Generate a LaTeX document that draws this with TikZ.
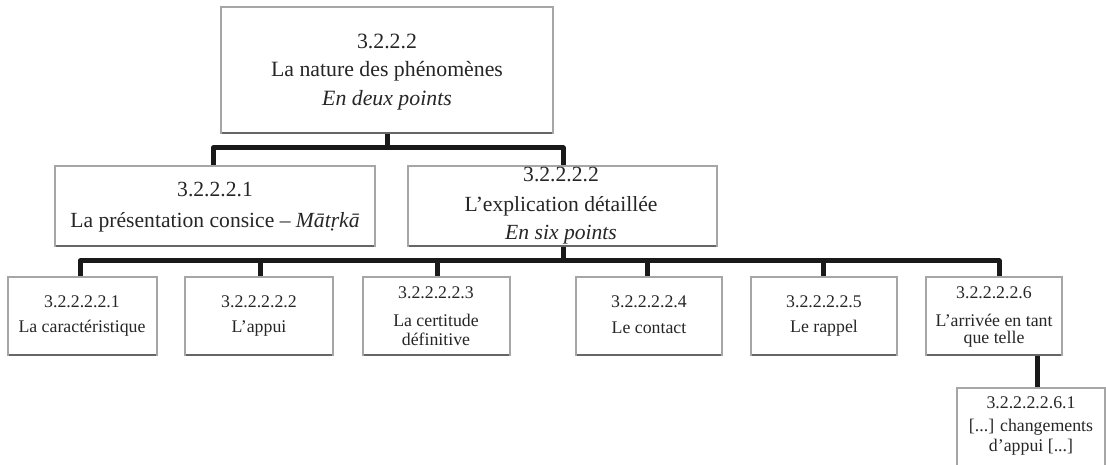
\documentclass[tikz,border=0pt]{standalone}
\usepackage{fontspec}
\setmainfont{Liberation Serif}
\usetikzlibrary{calc}
\tikzset{
  box/.style={draw=black!35, line width=1.2pt, fill=white, inner sep=0pt, outer sep=0pt},
  edge/.style={draw=black!60, line width=2.4pt},
  conn/.style={draw=black!90, line width=5pt, line join=round, line cap=butt},
  ta/.style={font=\fontsize{21.8}{26}\selectfont, text=black!85, inner sep=0pt, anchor=center},
  tb/.style={font=\fontsize{21.6}{26}\selectfont, text=black!85, inner sep=0pt, anchor=center},
  tc/.style={font=\fontsize{17.8}{21}\selectfont, text=black!85, inner sep=0pt, anchor=center},
}
% a box given by its left, top, right and bottom edges
\newcommand\mybox[5]{%
  \node[box, minimum width={(#4)-(#2)}, minimum height={(#5)-(#3)}] (#1) at ({((#2)+(#4))/2},{((#3)+(#5))/2}) {};
  \draw[edge] ([xshift=0.6pt]#1.south west) -- ([xshift=-0.6pt]#1.south east);
}
\begin{document}
\begin{tikzpicture}[x=1pt, y=-1pt]
\useasboundingbox (0,0) rectangle (1106,465);

% connectors first, boxes are drawn on top
\coordinate (j1) at (387,148);
\coordinate (s1a) at (213,166);
\coordinate (s1b) at (563,166);
\draw[conn] (387,133) -- (j1);
\draw[conn] (s1a) |- (j1) -| (s1b);

\coordinate (j2top) at (563,246);
\coordinate (j2) at (563,261);
\draw[conn] (j2top) -- (j2);
\coordinate (s2a) at (80,277);
\coordinate (s2f) at (999,277);
\draw[conn] (s2a) |- (j2) -| (s2f);
\foreach \x in {260,437,647,823}{
  \coordinate (s2\x) at (\x,277);
  \draw[conn] (s2\x) -- (\x,261);
}
\coordinate (s3top) at (1037,355);
\coordinate (s3bot) at (1037,388);
\draw[conn] (s3top) -- (s3bot);

% level 1
\mybox{top}{221}{7}{553}{133}
\node[ta] (t0a) at (387,41) {3.2.2.2};
\node[ta] (t0b) at (387,71) {La nature des phénomènes};
\node[ta] (t0c) at (387,100) {\itshape En deux points};

% level 2
\mybox{la}{55}{166}{375}{246}
\node[tb] (tla) at (215,190) {3.2.2.2.1};
\node[tb] (tlb) at (215,222) {La présentation consice – \textit{Mātṛkā}};

\mybox{lb}{408}{166}{717}{246}
\node[tb] (tra) at (561,175) {3.2.2.2.2};
\node[tb] (trb) at (561,206) {L’explication détaillée};
\node[tb] (trc) at (561,235) {\itshape En six points};

% level 3
\mybox{c1}{8}{277}{157}{355}
\node[tc] (c1a) at (82,302) {3.2.2.2.2.1};
\node[tc] (c1b) at (82,328) {La caractéristique};

\mybox{c2}{185}{277}{333}{355}
\node[tc] (c2a) at (259,302) {3.2.2.2.2.2};
\node[tc] (c2b) at (259,328) {L’appui};

\mybox{c3}{363}{277}{510}{355}
\node[tc] (c3a) at (436,293) {3.2.2.2.2.3};
\node[tc] (c3b) at (436,320) {La certitude};
\node[tc] (c3c) at (436,339) {définitive};

\mybox{c4}{576}{277}{722}{355}
\node[tc] (c4a) at (649,302) {3.2.2.2.2.4};
\node[tc] (c4b) at (649,328) {Le contact};

\mybox{c5}{751}{277}{897}{355}
\node[tc] (c5a) at (824,302) {3.2.2.2.2.5};
\node[tc] (c5b) at (824,328) {Le rappel};

\mybox{c6}{926}{277}{1062}{355}
\node[tc] (c6a) at (994,293) {3.2.2.2.2.6};
\node[tc] (c6b) at (994,320) {L’arrivée en tant};
\node[tc] (c6c) at (994,339) {que telle};

% level 4, running off the bottom edge
\node[box, minimum width=148, minimum height=90] (d1) at (1031,433) {};
\node[tc] (d1a) at (1031,403) {3.2.2.2.2.6.1};
\node[tc] (d1b) at (1031,427) {[...] changements};
\node[tc] (d1c) at (1031,447) {d’appui [...]};
\end{tikzpicture}
\end{document}
